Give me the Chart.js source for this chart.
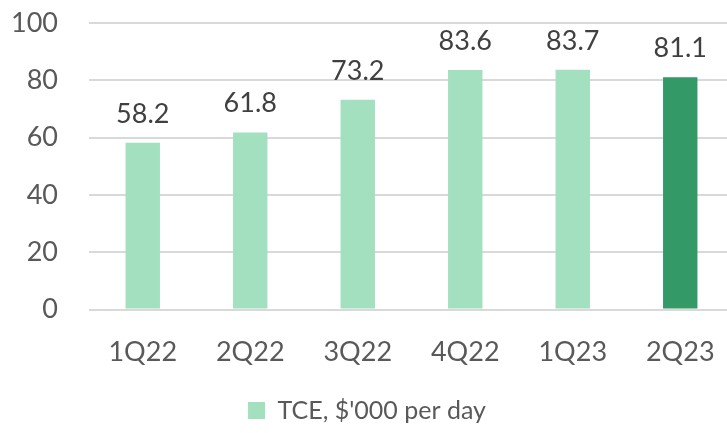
<!DOCTYPE html>
<html>
<head>
<meta charset="utf-8">
<script src="https://cdn.jsdelivr.net/npm/chart.js@4"></script>
<style>
  html, body { margin: 0; padding: 0; background: #fff; overflow: hidden; }
  #wrap { width: 740px; height: 433px; position: relative; }
</style>
</head>
<body>
<div id="wrap"><canvas id="tceChart"></canvas></div>
<script>
const quarters = ['1Q22', '2Q22', '3Q22', '4Q22', '1Q23', '2Q23'];
const tceValues = [58.2, 61.8, 73.2, 83.6, 83.7, 81.1];
const barColors = ['#A3E0C0', '#A3E0C0', '#A3E0C0', '#A3E0C0', '#A3E0C0', '#339966'];
const seriesLabel = "TCE, $'000 per day";

const FONT = 'Lato, "Open Sans", sans-serif';

// draw value above each bar
const valueLabels = {
    id: 'valueLabels',
    afterDatasetsDraw(chart) {
        const ctx = chart.ctx;
        const meta = chart.getDatasetMeta(0);
        ctx.save();
        ctx.font = '27px ' + FONT;
        ctx.fillStyle = '#404040';
        ctx.textAlign = 'center';
        ctx.textBaseline = 'alphabetic';
        meta.data.forEach((bar, i) => {
            ctx.fillText(tceValues[i].toFixed(1), bar.x, bar.y - 20);
        });
        ctx.restore();
    }
};

function initializeChart() {
    const ctx = document.getElementById('tceChart').getContext('2d');
    new Chart(ctx, {
        type: 'bar',
        data: {
            labels: quarters,
            datasets: [
                {
                    label: seriesLabel,
                    data: tceValues,
                    backgroundColor: barColors,
                    categoryPercentage: 1,
                    barPercentage: 0.32
                }
            ]
        },
        options: {
            responsive: true,
            maintainAspectRatio: false,
            animation: false,
            layout: {
                padding: { left: 0, right: 6, top: 23, bottom: 0 }
            },
            scales: {
                x: {
                    grid: { display: false },
                    border: { display: false },
                    ticks: {
                        color: '#595959',
                        font: { family: FONT, size: 27 },
                        padding: 18
                    },
                    afterFit: (scale) => {
                        scale.height += 9;
                        scale.paddingLeft = 0;
                        scale.paddingRight = 0;
                    }
                },
                y: {
                    min: 0,
                    max: 100,
                    grid: { color: '#D9D9D9', lineWidth: 2, drawTicks: false },
                    border: { display: false },
                    ticks: {
                        stepSize: 20,
                        color: '#595959',
                        font: { family: FONT, size: 27 },
                        padding: 31
                    },
                    afterFit: (scale) => {
                        scale.width = 89;
                        scale.paddingTop = 0;
                        scale.paddingBottom = 0;
                    }
                }
            },
            plugins: {
                tooltip: { enabled: false },
                legend: {
                    position: 'bottom',
                    labels: {
                        generateLabels: () => [{
                            text: seriesLabel,
                            fillStyle: barColors[0],
                            strokeStyle: barColors[0],
                            lineWidth: 0,
                            fontColor: '#595959'
                        }],
                        boxWidth: 17,
                        boxHeight: 17,
                        color: '#595959',
                        font: { family: FONT, size: 25 },
                        padding: 3
                    }
                }
            }
        },
        plugins: [valueLabels]
    });
}

document.addEventListener('DOMContentLoaded', () => {
    initializeChart();
});
</script>
</body>
</html>
